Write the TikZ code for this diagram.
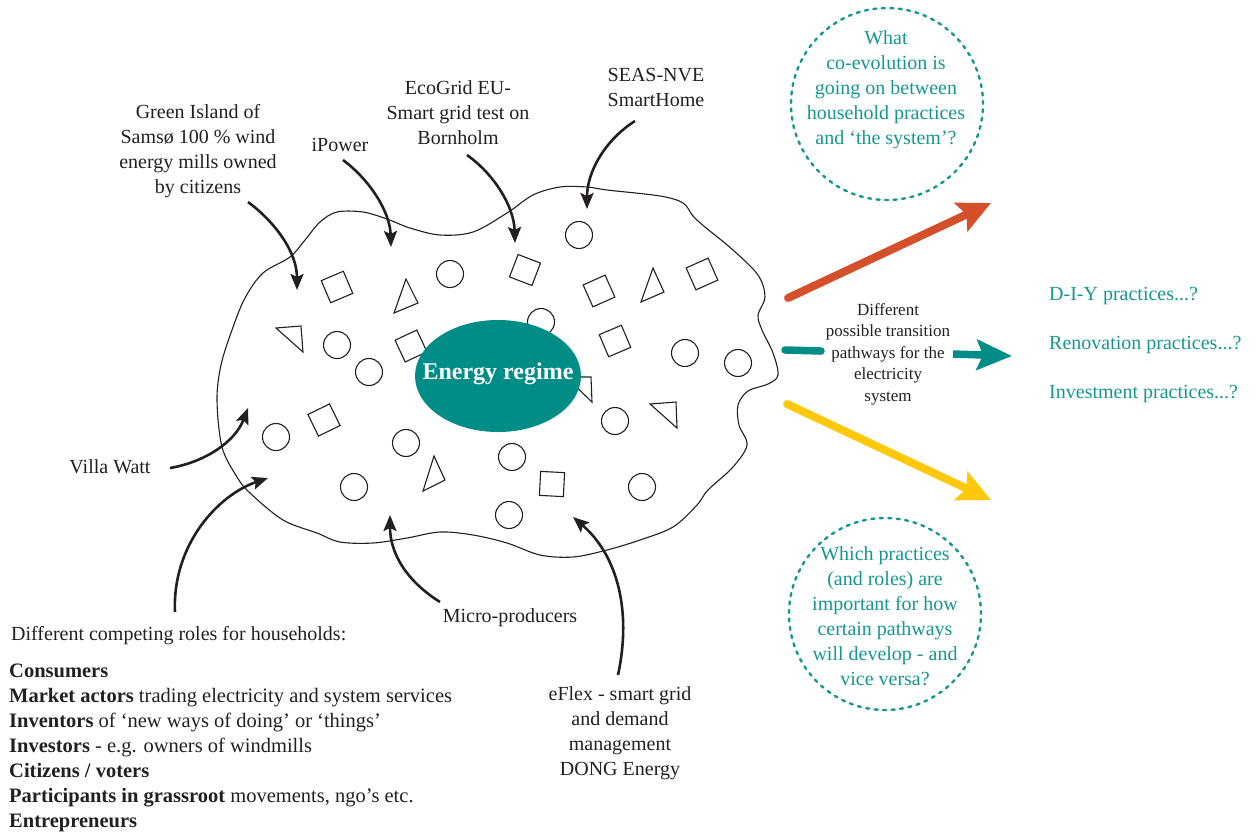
\documentclass[tikz,border=0pt]{standalone}
\usepackage{fontspec}
\setmainfont{Liberation Serif}
\usetikzlibrary{arrows.meta,shapes.geometric}
\definecolor{ink}{RGB}{35,31,32}
\definecolor{tealfill}{RGB}{0,140,135}
\definecolor{tealtext}{RGB}{22,150,144}
\definecolor{pathred}{RGB}{212,80,42}
\definecolor{pathyellow}{RGB}{255,200,10}
\begin{document}
\begin{tikzpicture}[x=1pt,y=-1pt,
  lbl/.style={font=\fontsize{20}{25}\selectfont, text=ink, align=center, inner sep=0pt},
  small/.style={font=\fontsize{17}{21.5}\selectfont, text=ink, align=center, inner sep=0pt},
  qtext/.style={font=\fontsize{20}{25}\selectfont, text=tealtext, align=center, inner sep=0pt},
  circ/.style={circle, draw=ink, line width=1.1pt, minimum size=27pt, inner sep=0pt},
  sq/.style={rectangle, draw=ink, line width=1.1pt, minimum size=24pt, inner sep=0pt},
  tri/.style={draw=ink, line width=1.1pt, line join=miter},
  feed/.style={ink, line width=2.6pt, -{Stealth[length=16pt,width=13pt,inset=3pt]}},
  dcirc/.style={circle, draw=tealtext, line width=2.4pt, dash pattern=on 3pt off 5.5pt, line cap=round, minimum size=192pt, inner sep=0pt},
  bigarrow/.style={line width=8pt, line cap=round, -{Stealth[length=33pt,width=31pt,inset=6pt]}}
]
\useasboundingbox (0,0) rectangle (1258,831);

% ---------- blob (niche space) ----------
\draw[ink, line width=1.1pt] plot[smooth cycle, tension=0.55] coordinates {
 (217,400) (221,365) (232,330) (245,298) (263,273) (290,257) (305,240) (320,222)
 (337,212) (363,212) (387,219) (410,228) (440,235) (473,232) (507,213) (533,195)
 (560,187) (587,187) (607,190) (660,196) (683,203) (693,216) (705,227) (733,250)
 (758,275) (765,297) (758,315) (762,330) (773,353) (778,375) (768,384) (748,391)
 (738,405) (739,425) (747,445) (733,467) (708,490) (697,505) (673,527) (640,540)
 (607,550) (573,557) (540,555) (507,543) (473,535) (440,532) (407,538) (373,543)
 (340,542) (317,533) (283,520) (250,493) (237,477) (222,447)};

% ---------- circles ----------
\node[circ] (c1) at (579,235) {};
\node[circ] (c2) at (450,274) {};
\node[circ] (c3) at (337,345) {};
\node[circ] (c4) at (369,372) {};
\node[circ] (c5) at (541,322) {};
\node[circ] (c6) at (685,353) {};
\node[circ] (c7) at (738,363) {};
\node[circ] (c8) at (615,421) {};
\node[circ] (c9) at (276,437) {};
\node[circ] (c10) at (406,443) {};
\node[circ] (c11) at (512,457) {};
\node[circ] (c12) at (354,487) {};
\node[circ] (c13) at (642,487) {};
\node[circ] (c14) at (509,515) {};

% ---------- squares ----------
\node[sq, rotate=23] (s1) at (337,287) {};
\node[sq, rotate=-21] (s2) at (525,270) {};
\node[sq, rotate=24] (s3) at (599,291) {};
\node[sq, rotate=24] (s4) at (702,274) {};
\node[sq, rotate=25] (s5) at (411,346) {};
\node[sq, rotate=23] (s6) at (615,341) {};
\node[sq, rotate=26] (s7) at (324,420) {};
\node[sq, rotate=-3] (s8) at (552,484) {};

% ---------- triangles ----------
\draw[tri] (406,279) -- (418,303) -- (394,313) -- cycle;
\draw[tri] (653,268) -- (664,292) -- (641,302) -- cycle;
\draw[tri] (276,328) -- (301,326) -- (303,352) -- cycle;
\draw[tri] (434,456) -- (445,480) -- (423,491) -- cycle;
\draw[tri] (650,404) -- (676,402) -- (677,428) -- cycle;
\draw[tri] (566,377) -- (591,377) -- (592,402) -- cycle;

% ---------- energy regime ----------
\node[ellipse, fill=tealfill, minimum width=166pt, minimum height=112pt, inner sep=0pt] (regime) at (498,376) {};
\node[font=\fontsize{24}{28}\selectfont\bfseries, text=white, inner sep=0pt] (regimetext) at (498,374) {Energy regime};

% ---------- labels ----------
\node[lbl, anchor=north] (green) at (198,104) {Green Island of\\Samsø 100 \% wind\\energy mills owned\\by citizens};
\node[lbl, anchor=north] (ipower) at (340,138) {iPower};
\node[lbl, anchor=north] (ecogrid) at (458,80) {EcoGrid EU-\\Smart grid test on\\Bornholm};
\node[lbl, anchor=north] (seas) at (656,68) {SEAS-NVE\\SmartHome};
\node[lbl] (villa) at (110,467) {Villa Watt};
\node[lbl] (micro) at (510,618) {Micro-producers};
\node[lbl, anchor=north] (eflex) at (620,686) {eFlex - smart grid\\and demand\\management\\DONG Energy};

\node[lbl, anchor=west] (roles) at (11,636) {Different competing roles for households:};
\begin{scope}[every node/.style={lbl, font=\fontsize{20.5}{25}\selectfont, anchor=base west}]
\node (r1) at (9,677) {\textbf{Consumers}};
\node (r2) at (9,702) {\textbf{Market actors} trading electricity and system services};
\node (r3) at (9,727) {\textbf{Inventors} of ‘new ways of doing’ or ‘things’};
\node (r4) at (9,752) {\textbf{Investors} - e.g. owners of windmills};
\node (r5) at (9,777) {\textbf{Citizens / voters}};
\node (r6) at (9,802) {\textbf{Participants in grassroot} movements, ngo’s etc.};
\node (r7) at (9,827) {\textbf{Entrepreneurs}};
\end{scope}

% ---------- feed-in arrows ----------
\coordinate (g0) at (248,202);  \coordinate (g1) at (297,290);
\coordinate (i0) at (343,160);  \coordinate (i1) at (391,247);
\coordinate (e0) at (467,155);  \coordinate (e1) at (515,243);
\coordinate (n0) at (635,121);  \coordinate (n1) at (587,209);
\coordinate (v0) at (170,468);  \coordinate (v1) at (248,408);
\coordinate (h0) at (175,612);  \coordinate (h1) at (268,478);
\coordinate (m0) at (440,602);  \coordinate (m1) at (390,515);
\coordinate (f0) at (618,675);  \coordinate (f1) at (573,517);
\draw[feed] (g0) .. controls (275,222) and (297,252) .. (g1);
\draw[feed] (i0) .. controls (370,180) and (390,212) .. (i1);
\draw[feed] (e0) .. controls (495,175) and (514,207) .. (e1);
\draw[feed] (n0) .. controls (605,140) and (587,172) .. (n1);
\draw[feed] (v0) .. controls (205,462) and (235,442) .. (v1);
\draw[feed] (h0) .. controls (172,545) and (218,495) .. (h1);
\draw[feed] (m0) .. controls (405,580) and (390,552) .. (m1);
\draw[feed] (f0) .. controls (632,610) and (617,555) .. (f1);

% ---------- transition pathways ----------
\coordinate (red0) at (788,298); \coordinate (red1) at (991,203);
\coordinate (yel0) at (787,404); \coordinate (yel1) at (991,500);
\coordinate (tl0) at (785,350); \coordinate (tl1) at (821,351);
\coordinate (tr0) at (953,354); \coordinate (tr1) at (1012,356);
\draw[bigarrow, pathred] (red0) -- (red1);
\draw[bigarrow, pathyellow] (yel0) -- (yel1);
\draw[line width=7.5pt, tealfill, line cap=round] (tl0) -- (tl1);
\draw[line width=7.5pt, tealfill, -{Stealth[length=35pt,width=30pt,inset=6pt]}] (tr0) -- (tr1);
\node[small, anchor=north] (pathways) at (888,303) {Different\\possible transition\\pathways for the\\electricity\\system};

% ---------- practices ----------
\node[qtext, anchor=west] (diy) at (1049,296) {D-I-Y practices...?};
\node[qtext, anchor=west] (reno) at (1049,345) {Renovation practices...?};
\node[qtext, anchor=west] (inv) at (1049,394) {Investment practices...?};

% ---------- questions ----------
\node[dcirc] (q1) at (887,104) {};
\node[qtext, anchor=north] (q1t) at (886,30) {What\\co-evolution is\\going on between\\household practices\\and ‘the system’?};
\node[dcirc] (q2) at (885,614) {};
\node[qtext, anchor=north] (q2t) at (885,546) {Which practices\\(and roles) are\\important for how\\certain pathways\\will develop - and\\vice versa?};
\end{tikzpicture}
\end{document}
